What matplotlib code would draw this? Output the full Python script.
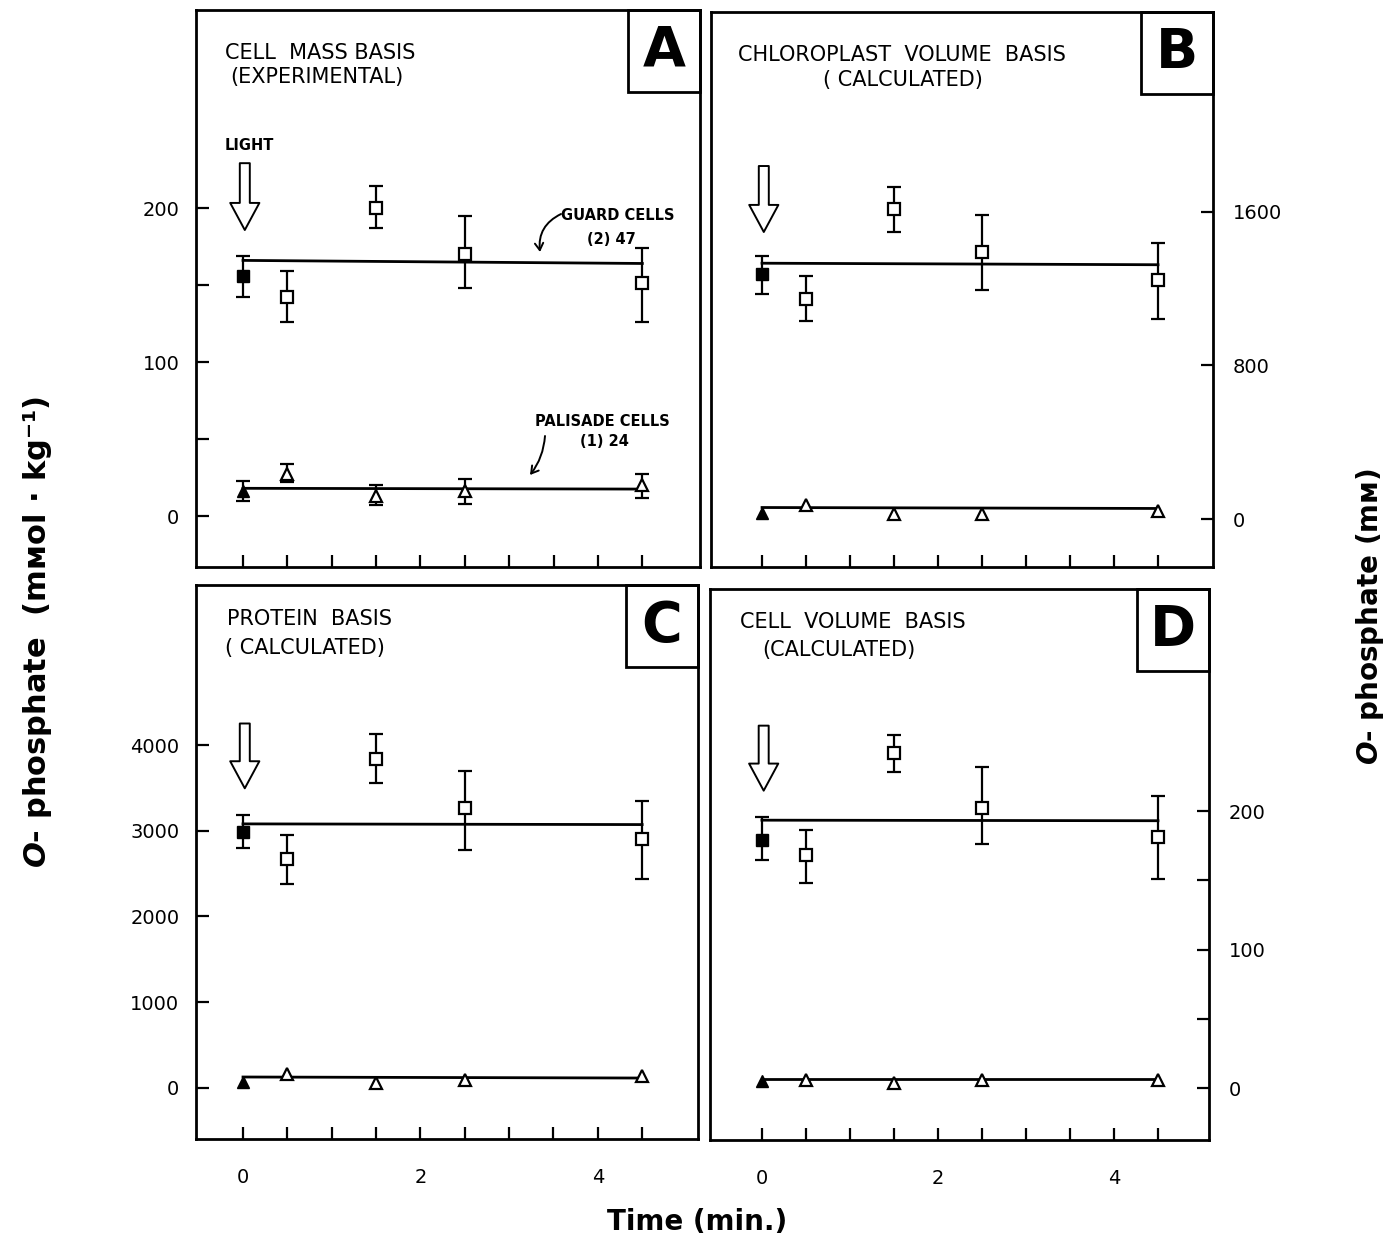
import matplotlib
matplotlib.use("Agg")
import matplotlib.pyplot as plt
from matplotlib.patches import Rectangle
from matplotlib.ticker import FixedLocator

W, H = 1398, 1241

# ─────────────────────────────────────────────────────────────────────────────
# Datos
# ─────────────────────────────────────────────────────────────────────────────
t = [0, 0.5, 1.5, 2.5, 4.5]
fit_x = [0, 4.5]

# A: cell mass basis (mmol/kg)
a_guard = [156, 142, 200, 170, 151]
a_guard_hi = [169, 159, 214, 195, 174]
a_guard_lo = [142, 126, 187, 148, 126]
a_guard_fit = [166, 164]
a_pal = [16, 27, 13, 16, 20]
a_pal_hi = [23, 34, 20, 24, 27]
a_pal_lo = [10, 22, 7, 8, 12]
a_pal_fit = [18, 17.5]

# B: chloroplast volume basis (mM)
b_guard = [1275, 1148, 1615, 1391, 1247]
b_guard_hi = [1370, 1268, 1732, 1583, 1438]
b_guard_lo = [1171, 1034, 1494, 1191, 1042]
b_guard_fit = [1333, 1325]
b_pal = [30, 75, 25, 25, 40]
b_pal_fit = [60, 55]

# C: protein basis (mmol/kg)
c_guard = [2986, 2674, 3842, 3260, 2909]
c_guard_hi = [3179, 2952, 4128, 3700, 3350]
c_guard_lo = [2802, 2383, 3559, 2776, 2434]
c_guard_fit = [3080, 3072]
c_pal = [73, 158, 56, 98, 141]
c_pal_fit = [128, 116]

# D: cell volume basis (mM)
d_guard = [179, 168, 242, 202, 181]
d_guard_hi = [196, 186, 255, 232, 211]
d_guard_lo = [165, 148, 228, 176, 151]
d_guard_fit = [193.4, 193]
d_pal = [5, 6, 4, 6, 6]
d_pal_fit = [6.5, 6.5]

titles = {
    "A": ["CELL  MASS BASIS", "(EXPERIMENTAL)"],
    "B": ["CHLOROPLAST  VOLUME  BASIS", "( CALCULATED)"],
    "C": ["PROTEIN  BASIS", "( CALCULATED)"],
    "D": ["CELL  VOLUME  BASIS", "(CALCULATED)"],
}

# ─────────────────────────────────────────────────────────────────────────────
# Figura
# ─────────────────────────────────────────────────────────────────────────────
plt.rcParams["font.family"] = ["DejaVu Sans"]
fig = plt.figure(figsize=(W / 100, H / 100), dpi=100)

LW = 2.0


def add_ax(x0, y0, x1, y1):
    return fig.add_axes([x0 / W, 1 - y1 / H, (x1 - x0) / W, (y1 - y0) / H])


def fpx(x, y):
    return (x, H - y)


def draw_panel(ax, guard, g_hi, g_lo, g_fit, pal, p_fit, p_hi=None, p_lo=None):
    ax.plot(fit_x, g_fit, color="black", lw=LW, zorder=2)
    ax.plot(fit_x, p_fit, color="black", lw=LW, zorder=2)
    g_err = [[g - l for g, l in zip(guard, g_lo)], [h - g for g, h in zip(guard, g_hi)]]
    ax.errorbar(t, guard, yerr=g_err, fmt="none", ecolor="black",
                elinewidth=1.6, capsize=4.8, capthick=1.6, zorder=3)
    if p_hi is not None:
        p_err = [[p - l for p, l in zip(pal, p_lo)], [h - p for p, h in zip(pal, p_hi)]]
        ax.errorbar(t, pal, yerr=p_err, fmt="none", ecolor="black",
                    elinewidth=1.6, capsize=4.8, capthick=1.6, zorder=3)
    ax.plot(t[1:], guard[1:], "s", mfc="white", mec="black", mew=1.6, ms=8, zorder=4)
    ax.plot(t[:1], guard[:1], "s", color="black", ms=8, zorder=4)
    ax.plot(t[1:], pal[1:], "^", mfc="white", mec="black", mew=1.6, ms=8, zorder=4)
    ax.plot(t[:1], pal[:1], "^", color="black", ms=8, zorder=4)


def style_ax(ax, letter, xlim, ylim, yticks, yminor, right, xlabels):
    ax.set_xlim(*xlim)
    ax.set_ylim(*ylim)
    for s in ax.spines.values():
        s.set_linewidth(LW)
    ax.xaxis.set_major_locator(FixedLocator([0, 2, 4]))
    ax.xaxis.set_minor_locator(FixedLocator([0.5, 1, 1.5, 2.5, 3, 3.5, 4.5]))
    ax.yaxis.set_major_locator(FixedLocator(yticks))
    ax.yaxis.set_minor_locator(FixedLocator(yminor))
    ax.tick_params(axis="both", which="both", direction="in", length=9, width=1.6)
    ax.tick_params(axis="x", which="both", top=False, bottom=True,
                   labelbottom=xlabels, labelsize=14, pad=21)
    if right:
        ax.yaxis.tick_right()
        ax.tick_params(axis="y", which="both", left=False, right=True,
                       labelleft=False, labelright=True, labelsize=14, pad=14)
    else:
        ax.tick_params(axis="y", which="both", left=True, right=False,
                       labelsize=14, pad=12)
    # recuadro con la letra
    bb = ax.get_position()
    bw = 72 / (bb.width * W)
    bh = 82 / (bb.height * H)
    ax.add_patch(Rectangle((1 - bw, 1 - bh), bw, bh, transform=ax.transAxes,
                           fill=False, lw=LW, clip_on=False, zorder=5))
    ax.text(1 - bw / 2, 1 - bh / 2, letter, transform=ax.transAxes,
            ha="center", va="center", fontsize=40, fontweight="bold")


def light_arrow(ax, y_top, y_tip):
    ax.annotate("", xy=(0.02, y_tip), xytext=(0.02, y_top),
                xycoords=("data", "axes fraction"), textcoords=("data", "axes fraction"),
                arrowprops=dict(arrowstyle="simple,head_length=1.95,head_width=2.1,tail_width=0.72",
                                mutation_scale=10, fc="white", ec="black", lw=1.4,
                                shrinkA=0, shrinkB=0))


ax_a = add_ax(196, 10, 700, 567)
ax_b = add_ax(711, 12, 1213, 567)
ax_c = add_ax(196, 585, 698, 1139)
ax_d = add_ax(710, 589, 1209, 1140)

draw_panel(ax_a, a_guard, a_guard_hi, a_guard_lo, a_guard_fit, a_pal, a_pal_fit, a_pal_hi, a_pal_lo)
draw_panel(ax_b, b_guard, b_guard_hi, b_guard_lo, b_guard_fit, b_pal, b_pal_fit)
draw_panel(ax_c, c_guard, c_guard_hi, c_guard_lo, c_guard_fit, c_pal, c_pal_fit)
draw_panel(ax_d, d_guard, d_guard_hi, d_guard_lo, d_guard_fit, d_pal, d_pal_fit)

style_ax(ax_a, "A", (-0.53, 5.15), (-33.1, 328.6), [0, 100, 200], [50, 150], False, False)
style_ax(ax_b, "B", (-0.58, 5.125), (-250, 2642), [0, 800, 1600], [], True, False)
style_ax(ax_c, "C", (-0.53, 5.13), (-595, 5866), [0, 1000, 2000, 3000, 4000], [], False, True)
style_ax(ax_d, "D", (-0.59, 5.08), (-37.5, 360.3), [0, 100, 200], [50, 150], True, True)

light_arrow(ax_a, 0.725, 0.605)
light_arrow(ax_b, 0.7225, 0.6036)
light_arrow(ax_c, 0.750, 0.633)
light_arrow(ax_d, 0.752, 0.634)

# titulos de cada panel
title_pos = {"A": [(225, 53), (230, 77)], "B": [(738, 55), (823, 80)],
             "C": [(227, 619), (225, 648)], "D": [(740, 622), (762, 650)]}
for k, lines in titles.items():
    for txt, (x, y) in zip(lines, title_pos[k]):
        fig.text(x / W, 1 - y / H, txt, ha="left", va="center", fontsize=15)

# anotaciones del panel A
fig.text(249 / W, 1 - 145 / H, "LIGHT", ha="center", va="center", fontsize=10.5, fontweight="bold")
fig.text(618 / W, 1 - 216 / H, "GUARD CELLS", ha="center", va="center", fontsize=10.5, fontweight="bold")
fig.text(611 / W, 1 - 239 / H, "(2) 47", ha="center", va="center", fontsize=10.5, fontweight="bold")
fig.text(602 / W, 1 - 422 / H, "PALISADE CELLS", ha="center", va="center", fontsize=10.5, fontweight="bold")
fig.text(604 / W, 1 - 442 / H, "(1) 24", ha="center", va="center", fontsize=10.5, fontweight="bold")
ax_a.annotate("", xy=fpx(540, 252), xytext=fpx(561, 214), xycoords="figure pixels",
              textcoords="figure pixels",
              arrowprops=dict(arrowstyle="->,head_length=0.5,head_width=0.3", lw=1.4,
                              connectionstyle="arc3,rad=0.35", shrinkA=0, shrinkB=0))
ax_a.annotate("", xy=fpx(530, 475), xytext=fpx(545, 436), xycoords="figure pixels",
              textcoords="figure pixels",
              arrowprops=dict(arrowstyle="->,head_length=0.5,head_width=0.3", lw=1.4,
                              connectionstyle="arc3,rad=-0.15", shrinkA=0, shrinkB=0))

# etiquetas de ejes
fig.text(38 / W, 1 - 632 / H, "$\\mathbfit{O}$- phosphate  (mᴍol · kg⁻¹)", rotation=90,
         ha="center", va="center", fontsize=22, fontweight="bold")
fig.text(1370 / W, 1 - 617 / H, "$\\mathbfit{O}$- phosphate (mᴍ)", rotation=90,
         ha="center", va="center", fontsize=20, fontweight="bold")
fig.text(697 / W, 1 - 1222 / H, "Time (min.)", ha="center", va="center",
         fontsize=20, fontweight="bold")

fig.savefig("out.png", dpi=100)
